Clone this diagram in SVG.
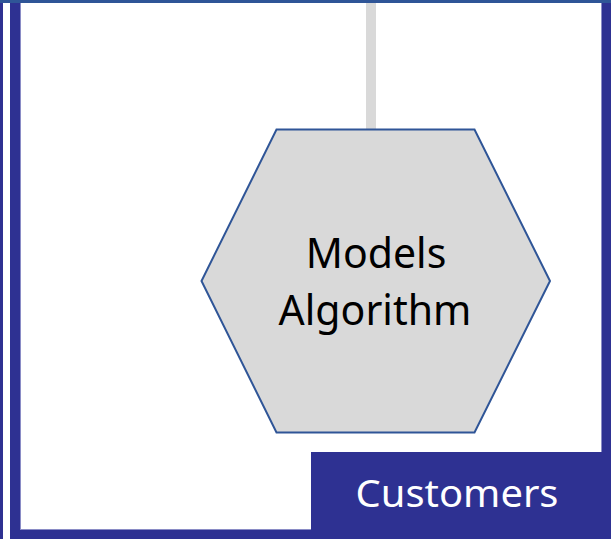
<svg xmlns="http://www.w3.org/2000/svg" width="611" height="539" viewBox="0 0 611 539">
  <style>
    .frame { fill: #2E3192; }
    .edge { fill: #8A8CC6; }
    .hex { fill: #D9D9D9; stroke: #2F5597; stroke-width: 2; }
    .label { font-family: "Noto Sans", "Open Sans", "Liberation Sans", sans-serif; text-anchor: middle; }
  </style>
  <rect x="0" y="0" width="611" height="539" fill="#FFFFFF"/>
  <g id="frame">
    <rect class="frame" x="0" y="0" width="3" height="539"/>
    <rect class="frame" x="10" y="0" width="10" height="539"/>
    <rect class="edge" x="20" y="3" width="1" height="527"/>
    <rect class="frame" x="602" y="0" width="9" height="539"/>
    <rect class="edge" x="601" y="3" width="1" height="527"/>
    <rect class="frame" x="10" y="530" width="601" height="9"/>
    <rect class="edge" x="20" y="529" width="582" height="1"/>
    <rect x="0" y="0" width="611" height="3" fill="#2F5597"/>
  </g>
  <g id="connectors">
    <rect x="366" y="3" width="10" height="127" fill="#D9D9D9"/>
  </g>
  <g id="models-algorithm">
    <polygon class="hex" points="276.5,129.5 474.5,129.5 550,281 474.5,432.5 276.5,432.5 201.5,281"/>
    <text class="label" x="376" y="268" font-size="41" fill="#000000">Models</text>
    <text class="label" x="375" y="325" font-size="41" fill="#000000">Algorithm</text>
  </g>
  <g id="customers">
    <rect x="311" y="452" width="300" height="87" fill="#2E3192"/>
    <text class="label" x="457" y="507" font-size="38" fill="#FFFFFF" textLength="203" lengthAdjust="spacingAndGlyphs">Customers</text>
  </g>
</svg>
